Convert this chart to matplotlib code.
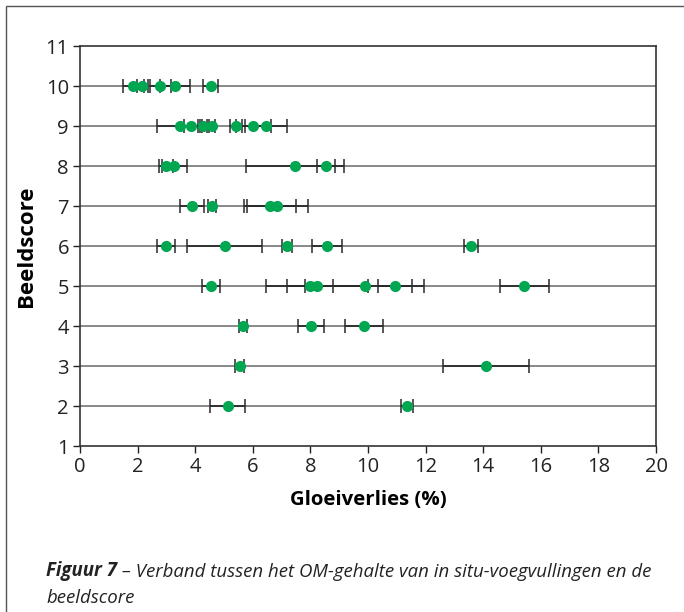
import matplotlib.pyplot as plt
from matplotlib.patches import Rectangle

plt.rcParams["font.family"] = ["Open Sans", "DejaVu Sans"]

# Beeldscore per measurement, gloeiverlies (%) and the error bar half-width
score = [10, 10, 10, 10, 10,
         9, 9, 9, 9, 9, 9, 9,
         8, 8, 8, 8,
         7, 7, 7, 7,
         6, 6, 6, 6, 6,
         5, 5, 5, 5, 5, 5,
         4, 4, 4,
         3, 3,
         2, 2]
gloei = [1.85, 2.17, 2.79, 3.29, 4.54,
         3.47, 3.85, 4.28, 4.59, 5.42, 6.02, 6.47,
         2.99, 3.28, 7.47, 8.54,
         3.89, 4.59, 6.60, 6.85,
         2.99, 5.02, 7.20, 8.59, 13.58,
         4.54, 7.99, 8.24, 9.88, 10.95, 15.43,
         5.66, 8.02, 9.86,
         5.54, 14.11,
         5.13, 11.35]
err = [0.36, 0.20, 0.36, 0.52, 0.26,
       0.78, 0.23, 0.13, 0.11, 0.20, 0.60, 0.73,
       0.25, 0.42, 1.71, 0.31,
       0.43, 0.14, 0.90, 1.06,
       0.31, 1.30, 0.17, 0.52, 0.25,
       0.31, 0.80, 1.77, 2.08, 0.59, 0.84,
       0.15, 0.45, 0.65,
       0.16, 1.49,
       0.61, 0.20]

x_ticks = list(range(0, 21, 2))
y_ticks = list(range(1, 12))

fig = plt.figure(figsize=(6.84, 6.12), dpi=100)
ax = fig.add_axes([80 / 684, 1 - 446 / 612, 576 / 684, 400 / 612])

for yv in range(2, 11):
    ax.axhline(yv, color="#6a6a6a", linewidth=1.1, zorder=1)

ax.errorbar(gloei, score, xerr=err, fmt="none", ecolor="#2a2a2a",
            elinewidth=1.3, capsize=5, capthick=1.1, zorder=2)
ax.plot(gloei, score, "o", color="#00a650", markersize=7, zorder=3)

ax.set_xlim(0, 20)
ax.set_ylim(1, 11)
ax.set_xticks(x_ticks)
ax.set_yticks(y_ticks)
ax.tick_params(direction="out", length=5, width=1, labelsize=14.5,
               colors="#222222", pad=3)
for sp in ax.spines.values():
    sp.set_color("#333333")
    sp.set_linewidth(1.2)

ax.set_xlabel("Gloeiverlies (%)", fontsize=14.7, fontweight="bold", labelpad=9)
ax.set_ylabel("Beeldscore", fontsize=16, fontweight="bold", labelpad=6)

# frame around the figure (only left/top edges visible)
fig.add_artist(Rectangle((6 / 684, -0.1), 1.2, 1 - 6 / 612 + 0.1,
                         transform=fig.transFigure, fill=False,
                         edgecolor="#555555", linewidth=1))

t1 = fig.text(46 / 684, 1 - 576 / 612, "Figuur 7", fontsize=13.4,
              fontweight="bold", style="italic", color="#222222")
ax.annotate(" \u2013 Verband tussen het OM-gehalte van in situ-voegvullingen en de",
            xy=(1, 0), xycoords=t1, va="bottom", fontsize=13.4,
            style="italic", color="#222222")
fig.text(46 / 684, 1 - 603 / 612, "beeldscore", fontsize=13.4,
         style="italic", color="#222222")

fig.savefig("out.png", dpi=100)
